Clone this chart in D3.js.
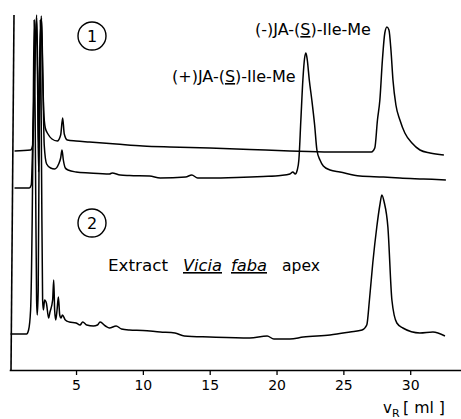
<!DOCTYPE html>
<html>
<head>
<meta charset="utf-8">
<script src="https://cdn.jsdelivr.net/npm/d3@7"></script>
<style>
  body { margin: 0; background: #fff; }
  svg { display: block; }
  text { font-family: "DejaVu Sans", sans-serif; fill: #000; }
</style>
</head>
<body>
<svg id="chart" width="461" height="419"></svg>
<script>
// retention volume (ml) vs detector response
var tickValues = [5, 10, 15, 20, 25, 30];

// trace 1: (-)JA-(S)-Ile-Me standard
var trace1 = [
  [0.4, 219], [1.6, 220], [1.75, 224], [1.85, 260], [1.95, 320], [2.05, 355],
  [2.13, 300], [2.2, 222], [2.28, 300], [2.4, 354], [2.5, 300], [2.58, 260],
  [2.7, 242], [2.9, 236], [3.2, 231], [3.6, 229], [3.85, 235], [4.0, 252],
  [4.12, 236], [4.35, 230], [5, 229], [6, 228], [8, 226], [10, 224], [12, 223],
  [15, 222], [18, 220.5], [21, 219], [24, 218], [26, 218], [27.1, 218],
  [27.35, 222], [27.55, 250], [27.73, 270], [27.92, 310], [28.1, 337],
  [28.26, 343], [28.41, 340], [28.56, 320], [28.71, 290], [28.93, 265],
  [29.23, 250], [29.6, 237], [30.13, 227], [30.73, 220], [31.48, 217], [32.52, 215]
];

// trace 2: (+)JA-(S)-Ile-Me standard
var trace2 = [
  [0.4, 182], [1.5, 182], [1.65, 185], [1.8, 250], [1.9, 300], [2.05, 352],
  [2.13, 280], [2.2, 198], [2.3, 290], [2.42, 352], [2.52, 290], [2.62, 225],
  [2.8, 206], [3.1, 202], [3.4, 201], [3.7, 206], [3.85, 212], [3.95, 220],
  [4.05, 210], [4.2, 202], [4.4, 200], [5, 198], [6, 197], [7.5, 196],
  [7.7, 197], [8.3, 195], [9, 194.5], [10.5, 194], [11.3, 192], [13.2, 193],
  [13.66, 195], [14.1, 192], [15, 192], [17, 192.5], [19, 193.5], [20.3, 194.5],
  [21, 196], [21.22, 198], [21.4, 196], [21.55, 200], [21.67, 210], [21.82, 250],
  [21.97, 290], [22.1, 312], [22.2, 317], [22.3, 310], [22.45, 290], [22.64, 270],
  [22.85, 245], [23.02, 220], [23.25, 210], [23.5, 204], [24, 200], [24.74, 198],
  [26.24, 194], [28, 193], [29.23, 192], [31, 191], [32.67, 190]
];

// trace 3: extract Vicia faba apex
var trace3 = [
  [0.1, 36], [1.3, 36], [1.45, 40], [1.6, 60], [1.72, 150], [1.8, 260],
  [1.87, 350], [1.97, 200], [2.05, 70], [2.1, 55], [2.17, 80], [2.25, 250],
  [2.33, 350], [2.42, 200], [2.5, 70], [2.56, 60], [2.65, 70], [2.78, 67],
  [2.95, 52], [3.05, 58], [3.25, 70], [3.33, 90], [3.4, 60], [3.48, 50],
  [3.58, 60], [3.68, 73], [3.78, 55], [3.88, 52], [3.98, 55], [4.2, 50],
  [4.5, 48], [5, 47], [5.3, 45], [5.5, 48], [5.8, 45], [6.3, 44], [6.6, 45],
  [6.8, 48], [7.2, 44], [7.5, 42], [8, 44], [8.4, 41], [9, 40], [10, 39.5],
  [11.3, 38], [12.4, 37], [13.1, 34], [15, 33], [18, 32], [19.3, 34], [19.8, 31],
  [21, 31], [22, 33], [24, 35], [25.5, 38], [26.4, 40], [26.75, 45], [26.95, 70],
  [27.2, 107], [27.5, 143], [27.73, 165], [27.88, 175], [28.05, 168], [28.33, 143],
  [28.63, 70], [29.0, 47], [29.45, 42], [30.73, 37], [31.7, 38], [32.6, 34]
];

var traces = [trace1, trace2, trace3];

var svg = d3.select("#chart");

var x = d3.scaleLinear().domain([0, 33.8]).range([9.2, 461]);
var y = d3.scaleLinear().domain([0, 355]).range([370, 15]);

// x axis
var xAxis = svg.append("g")
    .attr("transform", "translate(0," + y(0) + ")")
    .call(d3.axisBottom(x).tickValues(tickValues).tickSize(5).tickSizeOuter(0).tickPadding(5));
xAxis.select(".domain").attr("stroke", "#000").attr("stroke-width", 1.6);
xAxis.selectAll(".tick line").attr("stroke", "#000").attr("stroke-width", 1.3);
xAxis.selectAll(".tick text").attr("font-size", 14).attr("font-family", "DejaVu Sans");

// left pen line
svg.append("line")
    .attr("x1", 14).attr("y1", 15)
    .attr("x2", 11).attr("y2", y(0))
    .attr("stroke", "#000").attr("stroke-width", 1.6);

var line = d3.line()
    .x(function(d) { return x(d[0]); })
    .y(function(d) { return y(d[1]); })
    .curve(d3.curveMonotoneX);

svg.selectAll(".trace")
    .data(traces)
    .enter().append("path")
    .attr("class", "trace")
    .attr("d", line)
    .attr("fill", "none")
    .attr("stroke", "#000")
    .attr("stroke-width", 1.5)
    .attr("stroke-linejoin", "round");

// circled numbers
var circles = [{n: "1", cx: 92, cy: 36}, {n: "2", cx: 92, cy: 223}];
circles.forEach(function(c) {
    svg.append("circle")
        .attr("cx", c.cx).attr("cy", c.cy).attr("r", 14)
        .attr("fill", "none").attr("stroke", "#000").attr("stroke-width", 1.4);
    svg.append("text")
        .attr("x", c.cx).attr("y", c.cy + 6)
        .attr("text-anchor", "middle")
        .attr("font-size", 16)
        .text(c.n);
});

// peak labels
function peakLabel(sign, px, py) {
    var t = svg.append("text")
        .attr("x", px).attr("y", py)
        .attr("font-size", 16);
    t.append("tspan").text("(" + sign + ")JA-(");
    t.append("tspan").style("text-decoration", "underline").text("S");
    t.append("tspan").text(")-Ile-Me");
}
peakLabel("-", 255, 35);
peakLabel("+", 172, 82);

// extract label
svg.append("text").attr("x", 108).attr("y", 271).attr("font-size", 16)
    .attr("textLength", 60).attr("lengthAdjust", "spacingAndGlyphs").text("Extract");
svg.append("text").attr("x", 183).attr("y", 271).attr("font-size", 16)
    .attr("font-style", "italic").style("text-decoration", "underline")
    .attr("textLength", 39).attr("lengthAdjust", "spacingAndGlyphs").text("Vicia");
svg.append("text").attr("x", 231).attr("y", 271).attr("font-size", 16)
    .attr("font-style", "italic").style("text-decoration", "underline")
    .attr("textLength", 36).attr("lengthAdjust", "spacingAndGlyphs").text("faba");
svg.append("text").attr("x", 282).attr("y", 271).attr("font-size", 16)
    .attr("textLength", 38).attr("lengthAdjust", "spacingAndGlyphs").text("apex");

// axis title
var xt = svg.append("text").attr("x", 383).attr("y", 413).attr("font-size", 15);
xt.append("tspan").text("v");
xt.append("tspan").attr("font-size", 11).attr("dy", 4).text("R");
svg.append("text").attr("x", 403).attr("y", 413).attr("font-size", 15)
    .attr("textLength", 42).attr("lengthAdjust", "spacingAndGlyphs").text("[ ml ]");
</script>
</body>
</html>
